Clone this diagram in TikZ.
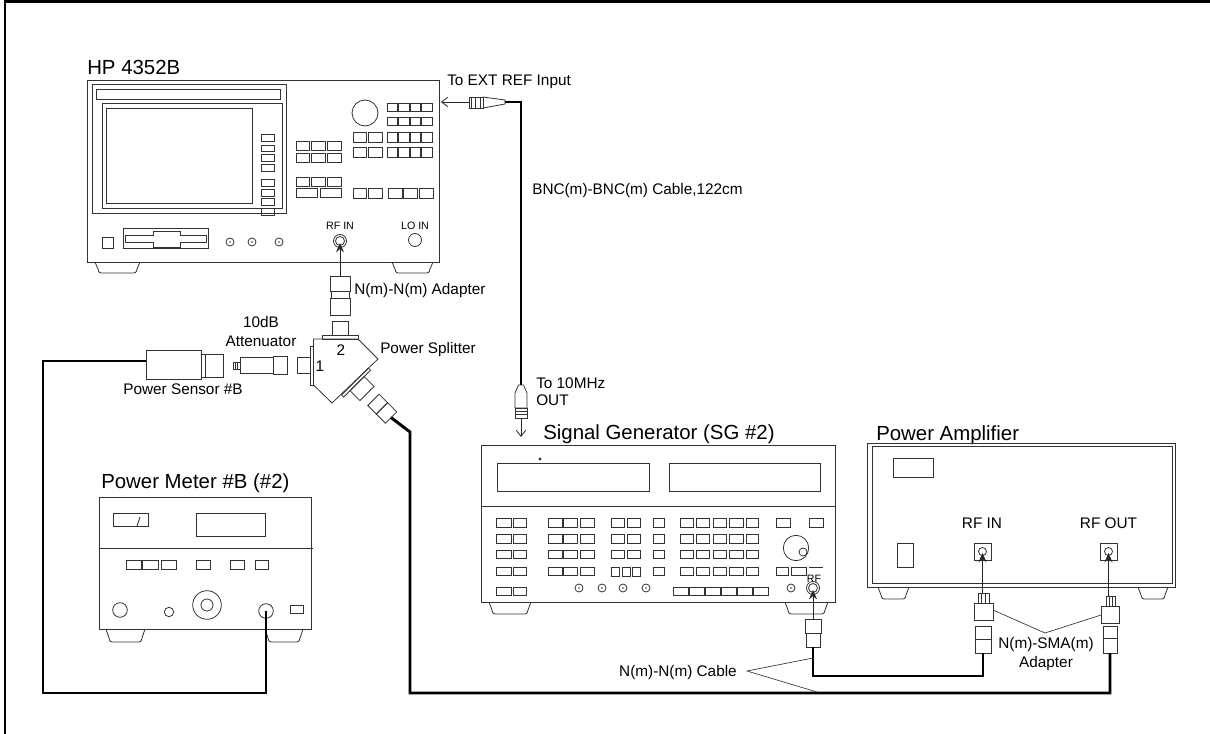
\documentclass[tikz,border=0pt]{standalone}
\usepackage{fontspec}
\setmainfont{Liberation Sans}
\usetikzlibrary{arrows.meta}
\newcommand\devfoot[4]{%
  \draw[dev] (#1,#3) -- ({#1+3},{#4-4}) .. controls ({#1+4},{#4}) .. ({#1+9},{#4}) -- ({#2-9},{#4}) .. controls ({#2-4},{#4}) .. ({#2-3},{#4-4}) -- (#2,#3);}
\newcommand\jack[2]{\draw[dev] (#1,#2) circle (4); \fill[black!80] (#1,#2) circle (0.9);}
\begin{document}
\begin{tikzpicture}[x=0.75pt,y=-0.75pt,
  dev/.style={draw=black!80,line width=0.6pt},
  cable/.style={draw=black,line width=2.2pt,line join=miter},
  callout/.style={draw=black!80,line width=0.5pt},
  biglbl/.style={font=\fontsize{15.3}{18}\selectfont,inner sep=0pt},
  lbl/.style={font=\fontsize{11.5}{13.5}\selectfont,inner sep=0pt},
  tinylbl/.style={font=\fontsize{8}{9}\selectfont,inner sep=0pt},
  rfarrow/.style={draw=black!85,line width=0.6pt,-{Stealth[length=7pt,width=6pt,inset=2.5pt]}},
  barb/.style={draw=black!85,line width=0.6pt,-{Straight Barb[length=4.5pt,width=7pt]}},
]
\useasboundingbox (0,0) rectangle (1210,734);
% frame
\draw[line width=2.2pt] (5,734) -- (5,1.5) -- (1210,1.5);

% ================= HP 4352B =================
\node[biglbl,anchor=base west] (hplbl) at (87,75) {HP 4352B};
\draw[dev] (87,80) rectangle (439,262);
\draw[dev] (92,84) rectangle (286,213);
\draw[dev] (96,89) rectangle (280,99);
\draw[dev] (102,103) rectangle (282,208);
\draw[dev] (106,108) rectangle (252,203);
\foreach \a/\b in {134/141,145/151,154/161,164/171,179/186,189/196,198/205,208/215}
  \draw[dev] (261,\a) rectangle (274,\b);
\foreach \x/\X in {296/309,311/325,327/341}
  \foreach \a/\b in {141/150,153/162,177/186}
    \draw[dev] (\x,\a) rectangle (\X,\b);
\draw[dev] (296,188) rectangle (317,197);
\draw[dev] (320,188) rectangle (341,197);
\draw[dev] (365,113) circle (13);
\foreach \x/\X in {387/397.5,398.5/409,410/420.5,421.5/432}
  \foreach \a/\b in {103/111,117/125,132/142,147/157}
    \draw[dev] (\x,\a) rectangle (\X,\b);
\foreach \x/\X in {353/366,368/382}
  \foreach \a/\b in {132/142,147/157,188/198}
    \draw[dev] (\x,\a) rectangle (\X,\b);
\foreach \x/\X in {388/402,403.5/417.5,419/433}
  \draw[dev] (\x,188) rectangle (\X,198);
\draw[dev] (102,237) rectangle (113,248);
\draw[dev] (123,228) rectangle (208,248);
\draw[dev] (125,235) -- (153,235) -- (153,231) -- (180,231) -- (180,235) -- (206,235) -- (206,242) -- (180,242) -- (180,247) -- (153,247) -- (153,242) -- (125,242) -- cycle;
\jack{230}{242}\jack{252}{242}\jack{279}{242}
\node[tinylbl] (rfinlbl) at (340,226) {RF IN};
\node[tinylbl] (loinlbl) at (415,226) {LO IN};
\draw[dev] (340,241) circle (6.5); \draw[dev] (340,241) circle (4.5);
\draw[dev] (415,240) circle (6.5);
\devfoot{95}{140}{262}{273}
\devfoot{392}{433}{262}{273}

% N(m)-N(m) adapter
\draw[dev] (330,276) rectangle (350,291);
\draw[dev] (331,291) rectangle (349,298);
\draw[dev] (330,298) rectangle (350,315);
\coordinate (hprfin) at (340,243);
\coordinate (adtop) at (340,277);
\draw[rfarrow] (adtop) -- (hprfin);
\node[lbl,anchor=base west] (nnad) at (354,295) {N(m)-N(m) Adapter};

% ================= Power splitter =================
\draw[dev] (332,321) rectangle (348,335);
\draw[dev] (322,335) rectangle (358,339);
\draw[dev] (313.5,339) -- (358,339) -- (378,359) -- (332,403) -- (313.5,385) -- cycle;
\draw[dev] (310,346) rectangle (313.5,385);
\draw[dev] (297,357) rectangle (310,373);
\node[lbl,anchor=base] (p2) at (341,355) {2};
\node[lbl,anchor=base] (p1) at (320,371.5) {1};
\node[lbl,anchor=base west] (splbl) at (380,353.5) {Power Splitter};
\begin{scope}[shift={(355,381.5)},rotate=-45]
  \draw[dev] (0,-19) rectangle (3,19);
  \draw[dev] (3,-10) rectangle (17,10);
  \draw[dev] (26,-8) rectangle (38,8);
  \draw[dev] (38,-8) rectangle (51,8);
  \coordinate (p3end) at (51,0);
\end{scope}

% attenuator
\draw[dev] (233,362) rectangle (240,369);
\draw[dev] (235.3,362) -- (235.3,369) (237.6,362) -- (237.6,369);
\draw[dev] (240,357) rectangle (273,373);
\draw[dev] (273,356) rectangle (287,374);
\node[lbl,anchor=base] (attA) at (261,327.5) {10dB};
\node[lbl,anchor=base] (attB) at (261,346.5) {Attenuator};

% power sensor
\draw[dev] (146,350) rectangle (201,379);
\draw[dev] (201,354) rectangle (223,377);
\draw[dev] (205,354) -- (205,377);
\coordinate (sensor) at (146,361);
\node[lbl,anchor=base] (senslbl) at (183,394.5) {Power Sensor \#B};

% ================= Power meter =================
\node[biglbl,anchor=base west] (pmlbl) at (101,488) {Power Meter \#B (\#2)};
\draw[dev] (99,497) rectangle (311,629);
\draw[dev] (99,548) -- (313,548);
\draw[dev] (113,513) rectangle (148,526);
\draw[dev] (137,526) -- (140,517);
\draw[dev] (196,513) rectangle (265,536);
\foreach \x/\X in {126/141,142.5/158,161/176,196/210,230/244,255/268}
  \draw[dev] (\x,560) rectangle (\X,569);
\draw[dev] (120,610) circle (7.3);
\draw[dev] (169,612) circle (4.7);
\draw[dev] (207,605) circle (14.3); \draw[dev] (207,605) circle (6);
\draw[dev] (266,611) circle (7.3);
\draw[dev] (290,605) rectangle (303,613);
\coordinate (pmin) at (266,611);
\devfoot{106}{145}{629}{642}
\devfoot{265}{303}{629}{642}

% sensor cable
\draw[cable] (pmin) -- (266,693) -- (43,693) -- (43,361) -- (sensor);

% ================= BNC cable =================
\draw[dev] (469,97) rectangle (483,108);
\draw[dev] (471.7,97) -- (471.7,108) (475,97) -- (475,108) (480,97) -- (480,108);
\draw[dev] (483,97) -- (505,100) -- (505,104) -- (483,108);
\coordinate (bnctopl) at (469,102);
\coordinate (hpext) at (441,102);
\draw[barb] (bnctopl) -- (hpext);
\coordinate (bnctopr) at (505,102);
\coordinate (bncbot) at (521,385);
\draw[cable] (bnctopr) -- (521,102) -- (bncbot);
\draw[dev] (518.5,385) -- (515,393) -- (515,408) -- (527,408) -- (527,393) -- (523.5,385) -- cycle;
\draw[dev] (515.5,408) rectangle (527.5,418);
\draw[dev] (515.5,411) -- (527.5,411) (515.5,414) -- (527.5,414);
\coordinate (bncend) at (521,418);
\coordinate (sgref) at (521,437);
\draw[barb] (bncend) -- (sgref);
\node[lbl,anchor=base west] (extlbl) at (447,86) {To EXT REF Input};
\node[lbl,anchor=base west] (bnclbl) at (532,195) {BNC(m)-BNC(m) Cable,122cm};
\node[lbl,anchor=base west] (tenA) at (536,388) {To 10MHz};
\node[lbl,anchor=base west] (tenB) at (536,405) {OUT};

% ================= Signal generator =================
\node[biglbl,anchor=base west] (sglbl) at (543,439.5) {Signal Generator (SG \#2)};
\draw[dev] (481,445) rectangle (835,602);
\draw[dev] (481,506) -- (835,506);
\draw[dev] (497,463) rectangle (649,491);
\draw[dev] (669,463) rectangle (820,491);
\draw[dev] (540,459) circle (1);
\foreach \a/\b in {518/527,534/543,550/558,567/575,587/595}
  \foreach \x/\X in {496/511,513/526}
    \draw[dev] (\x,\a) rectangle (\X,\b);
\foreach \a/\b in {518/527,534/543,550/558,567/575}{
  \foreach \x/\X in {548/562,563.5/577,580/594,653/664,680/693,696/709,713/726,729/743,746/758}
    \draw[dev] (\x,\a) rectangle (\X,\b);
}
\foreach \a/\b in {518/527,534/543,550/558}
  \foreach \x/\X in {611/624,627/640}
    \draw[dev] (\x,\a) rectangle (\X,\b);
\foreach \x/\X in {611/619,622/630,632/640}
  \draw[dev] (\x,567) rectangle (\X,576);
\foreach \x/\X in {673/688,689/704,705/720,721/736,737/752,753/768}
  \draw[dev] (\x,587) rectangle (\X,595);
\draw[dev] (776,518) rectangle (790,527);
\draw[dev] (809,518) rectangle (823,527);
\draw[dev] (796,548) circle (12.7);
\draw[dev] (803,552) circle (4);
\draw[dev] (776,567) rectangle (788,575);
\draw[dev] (791,567) rectangle (806,575);
\draw[dev] (809,567) -- (823,567);
\node[tinylbl] (sgrf) at (814,579) {RF};
\jack{579}{588}\jack{602}{588}\jack{623}{588}\jack{646}{588}\jack{791}{588}
\draw[dev] (813,588) circle (6.5); \draw[dev] (813,588) circle (4.5);
\devfoot{489}{531}{602}{614}
\devfoot{785}{828}{602}{614}
% SG RF adapter
\draw[dev] (805,619) rectangle (821,633);
\draw[dev] (806,633) rectangle (820,647);
\coordinate (sgad) at (813,619);
\coordinate (sgrfin) at (813,590);
\draw[rfarrow] (sgad) -- (sgrfin);
\coordinate (sgadb) at (813,647);

% ================= Power amplifier =================
\node[biglbl,anchor=base west] (palbl) at (876,440) {Power Amplifier};
\draw[dev] (867,443) rectangle (1175,587);
\draw[dev] (872,446) rectangle (1172,583);
\draw[dev] (893,458) rectangle (933,477);
\draw[dev] (897,543) rectangle (913,567);
\node[lbl,anchor=base] (pain) at (982,528) {RF IN};
\node[lbl,anchor=base] (paout) at (1108.5,528) {RF OUT};
\draw[dev] (974,543) rectangle (991,560); \draw[dev] (982.5,551.5) circle (4);
\draw[dev] (1100,543) rectangle (1117,560); \draw[dev] (1108.5,551.5) circle (4);
\devfoot{878}{909}{587}{599}
\devfoot{1138}{1168}{587}{599}
% PA RF IN adapter
\draw[dev] (978,593) rectangle (989,603);
\draw[dev] (981.5,593) -- (981.5,603) (985.5,593) -- (985.5,603);
\draw[dev] (974,603) rectangle (993,620);
\draw[dev] (975,626) rectangle (991,653);
\draw[dev] (975,639) -- (991,639);
\coordinate (paina) at (982.5,593);
\coordinate (painc) at (982.5,553);
\draw[rfarrow] (paina) -- (painc);
\coordinate (painb) at (983,653);
% PA RF OUT adapter
\draw[dev] (1106.5,596) rectangle (1115,606);
\draw[dev] (1109.3,596) -- (1109.3,606) (1112.2,596) -- (1112.2,606);
\draw[dev] (1101,606) rectangle (1119,623);
\draw[dev] (1103,626) rectangle (1117,653);
\draw[dev] (1103,638) -- (1117,638);
\coordinate (paouta) at (1108.5,596);
\coordinate (paoutc) at (1108.5,553);
\draw[rfarrow] (paouta) -- (paoutc);
\coordinate (paoutb) at (1110,653);

% cables
\draw[cable] (sgadb) -- (813,676) -- (983,676) -- (painb);
\draw[cable] (paoutb) -- (1110,693) -- (410,693) -- (410,432) -- (p3end);

% labels with callouts
\node[lbl,anchor=base] (nsma) at (1046,648) {N(m)-SMA(m)};
\node[lbl,anchor=base] (nsmab) at (1046,667) {Adapter};
\coordinate (nsmatip) at (1045,633);
\draw[callout] (993,610) -- (nsmatip) -- (1101,615);
\node[lbl,anchor=base east] (nncable) at (737,676.5) {N(m)-N(m) Cable};
\coordinate (nnctip) at (747,671);
\draw[callout] (813,658) -- (nnctip) -- (817,692);
\end{tikzpicture}
\end{document}
